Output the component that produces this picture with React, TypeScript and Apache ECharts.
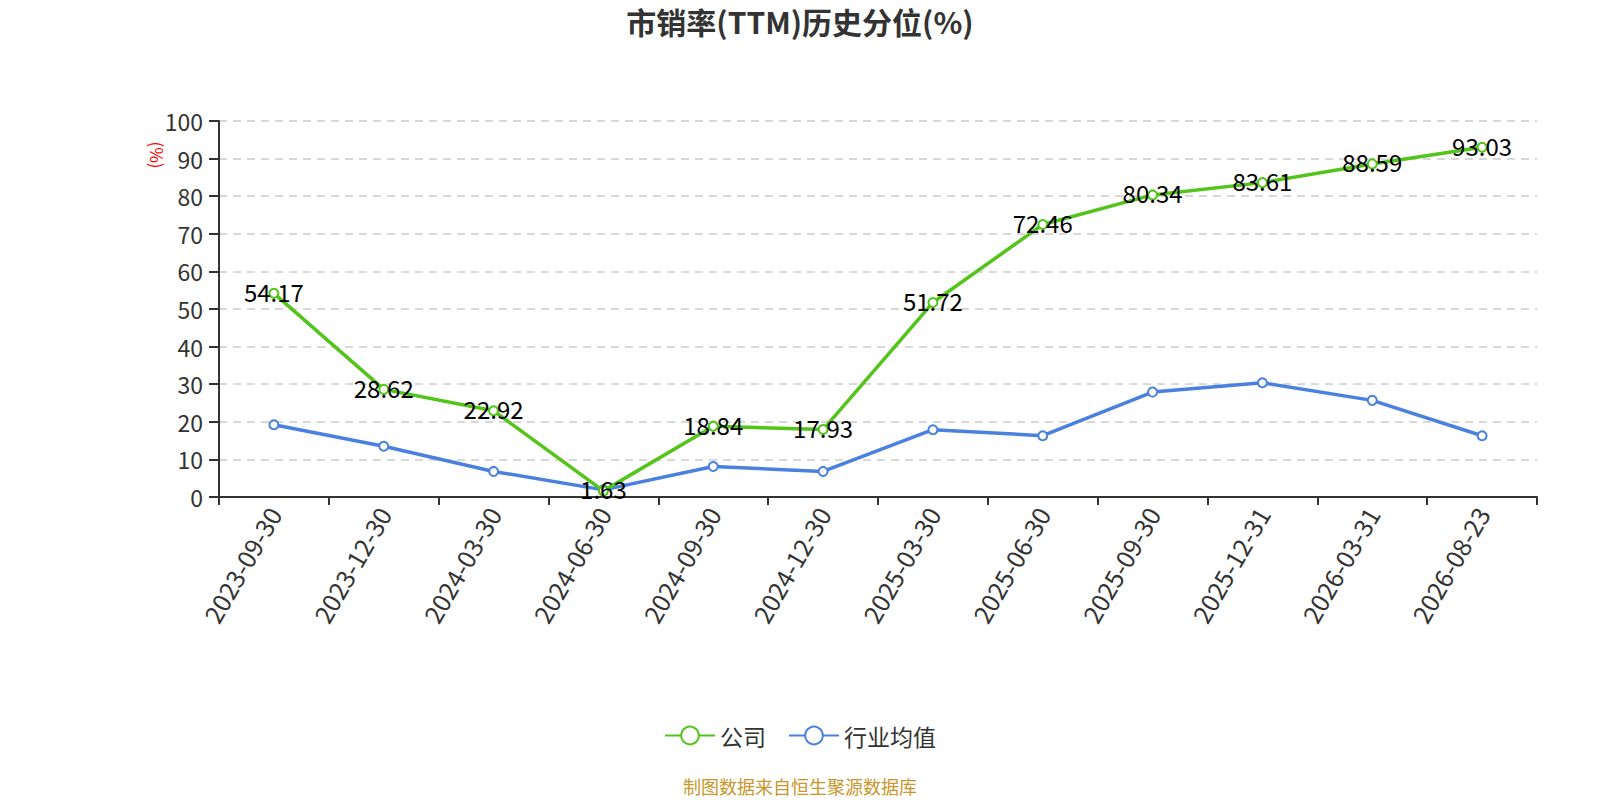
import React, { useEffect, useRef } from "react";
import * as echarts from "echarts";

const categories = [
  "2023-09-30", "2023-12-30", "2024-03-30", "2024-06-30", "2024-09-30", "2024-12-30",
  "2025-03-30", "2025-06-30", "2025-09-30", "2025-12-31", "2026-03-31", "2026-08-23",
];
const companyValues = [54.17, 28.62, 22.92, 1.63, 18.84, 17.93, 51.72, 72.46, 80.34, 83.61, 88.59, 93.03];
const industryValues = [19.2, 13.5, 6.8, 1.9, 8.1, 6.8, 17.9, 16.3, 27.9, 30.4, 25.7, 16.3];
const yTicks = { min: 0, max: 100, interval: 10 };

const FONT = "'Noto Sans CJK SC', 'Noto Sans', sans-serif";

export default function App() {
  const ref = useRef<HTMLDivElement>(null);
  useEffect(() => {
    document.body.style.margin = "0";
    document.body.style.overflow = "hidden";
    if (!ref.current) return;
    const chart = echarts.init(ref.current, undefined, { renderer: "svg" });
    chart.setOption({
      animation: false,
      backgroundColor: "#ffffff",
      textStyle: { fontFamily: FONT },
      title: {
        text: "市销率(TTM)历史分位(%)",
        left: "center",
        top: 3,
        padding: 0,
        textStyle: { fontSize: 30, fontWeight: "bold", color: "#333", fontFamily: FONT, lineHeight: 36 },
      },
      legend: {
        top: 719,
        left: "center",
        itemWidth: 50,
        itemHeight: 22,
        itemGap: 22,
        textStyle: { fontSize: 23, color: "#333", fontFamily: FONT },
        data: ["公司", "行业均值"],
      },
      grid: { left: 219, right: 63, top: 121, bottom: 303 },
      xAxis: {
        type: "category",
        data: categories,
        boundaryGap: true,
        axisLine: { lineStyle: { color: "#333", width: 2 } },
        axisTick: { show: true, length: 8, lineStyle: { color: "#333", width: 2 } },
        axisLabel: { rotate: 60, fontSize: 25, color: "#333", margin: 12, fontFamily: FONT },
      },
      yAxis: {
        type: "value",
        min: yTicks.min,
        max: yTicks.max,
        interval: yTicks.interval,
        axisLine: { show: true, lineStyle: { color: "#333", width: 2 } },
        axisTick: { show: true, length: 10, lineStyle: { color: "#333", width: 2 } },
        axisLabel: { fontSize: 23, color: "#333", margin: 16, fontFamily: FONT },
        splitLine: { lineStyle: { color: "#ccc", type: [8, 6], width: 1.5 } },
      },
      graphic: [
        {
          type: "text",
          x: 157,
          y: 155,
          rotation: -Math.PI / 2,
          style: {
            text: "(%)",
            fill: "#ff0000",
            font: `17px ${FONT}`,
            textAlign: "center",
            textVerticalAlign: "middle",
          },
        },
        {
          type: "text",
          left: "center",
          top: 777,
          style: {
            text: "制图数据来自恒生聚源数据库",
            fill: "#c8962a",
            font: `18px ${FONT}`,
          },
        },
      ],
      series: [
        {
          name: "公司",
          type: "line",
          data: companyValues,
          symbol: "emptyCircle",
          symbolSize: 9,
          itemStyle: { color: "#52c41a", borderWidth: 2 },
          lineStyle: { width: 3.5, color: "#52c41a" },
          label: {
            show: true,
            position: "inside",
            offset: [0, -2],
            fontSize: 24,
            color: "#000",
            fontFamily: FONT,
          },
          z: 3,
        },
        {
          name: "行业均值",
          type: "line",
          data: industryValues,
          symbol: "emptyCircle",
          symbolSize: 9,
          itemStyle: { color: "#4a80e0", borderWidth: 2 },
          lineStyle: { width: 3.5, color: "#4a80e0" },
          z: 2,
        },
      ],
    });
    return () => chart.dispose();
  }, []);
  return <div ref={ref} style={{ width: 1600, height: 800 }} />;
}
